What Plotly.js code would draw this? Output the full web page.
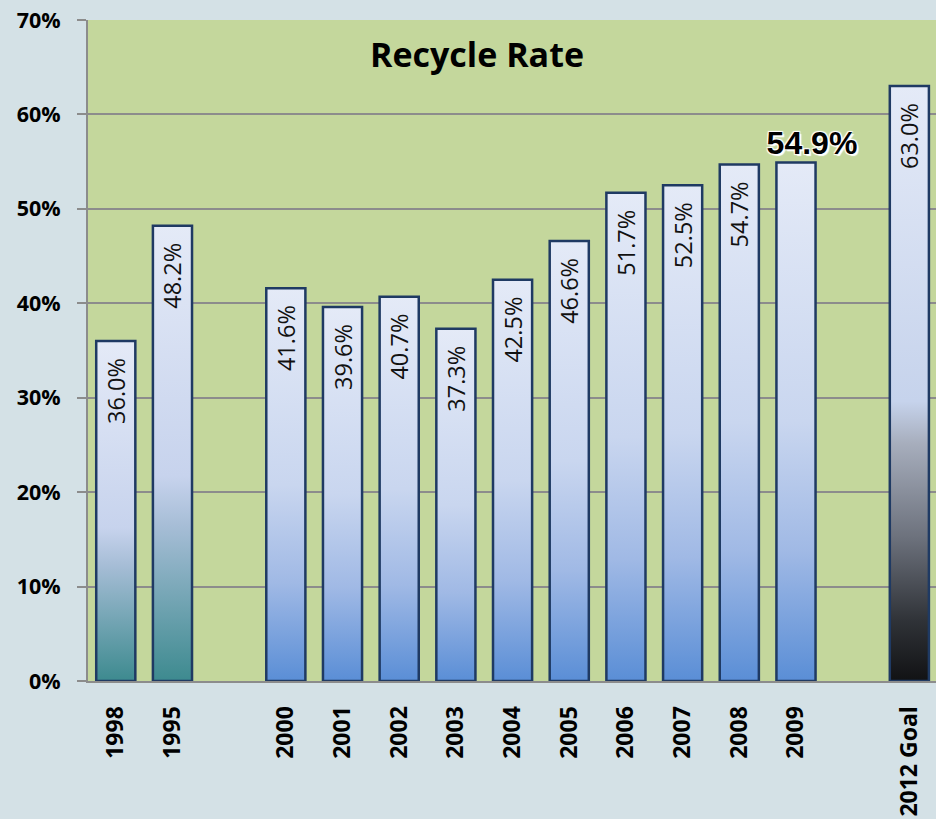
<!DOCTYPE html>
<html>
<head>
<meta charset="utf-8">
<script src="https://cdn.plot.ly/plotly-3.0.1.min.js"></script>
<style>
  html, body { margin: 0; padding: 0; background: #d4e1e6; }
  #chart { width: 936px; height: 819px; }
</style>
</head>
<body>
<div id="chart"></div>
<script>
// ---- data ----
const categories = ['1998', '1995', '2000', '2001', '2002', '2003', '2004', '2005', '2006', '2007', '2008', '2009', '2012 Goal'];
const rates = [36.0, 48.2, 41.6, 39.6, 40.7, 37.3, 42.5, 46.6, 51.7, 52.5, 54.7, 54.9, 63.0];
const axisOrder = ['1998', '1995', ' ', '2000', '2001', '2002', '2003', '2004', '2005', '2006', '2007', '2008', '2009', '  ', '2012 Goal'];
const highlighted = '2009';
const yTickVals = [0, 10, 20, 30, 40, 50, 60, 70];
const yTickText = ['0%', '10%', '20%', '30%', '40%', '50%', '60%', '70%'];
const chartTitle = 'Recycle Rate';

// ---- style ----
const gradientFor = {
  '1998': 'gTeal', '1995': 'gTeal', '2012 Goal': 'gBlack'
};
const labels = rates.map((v, i) => categories[i] === highlighted ? '' : v.toFixed(1) + '%');
const hiIdx = categories.indexOf(highlighted);

const traces = [{
  type: 'bar',
  x: categories,
  y: rates,
  text: labels,
  textposition: 'inside',
  insidetextanchor: 'end',
  textangle: -90,
  constraintext: 'none',
  textfont: { family: 'Open Sans, sans-serif', size: 23.5, color: '#111' },
  marker: { color: '#c8d5ee', line: { color: '#1f3a63', width: 2.5 } },
  hoverinfo: 'none'
}, {
  type: 'scatter',
  mode: 'text',
  x: [categories[hiIdx]],
  y: [rates[hiIdx]],
  text: [rates[hiIdx].toFixed(1) + '%'],
  textposition: 'top center',
  cliponaxis: false,
  textfont: { family: 'Liberation Sans, Arial, sans-serif', size: 32, color: '#000', weight: 700,
              shadow: '2px 2px 1px #fff, -1px -1px 1px #fff, 1px -1px 1px #fff, -1px 1px 1px #fff' },
  hoverinfo: 'none'
}];

const layout = {
  width: 936, height: 819,
  margin: { l: 88, r: 0, t: 20, b: 138 },
  paper_bgcolor: '#d4e1e6',
  plot_bgcolor: '#c4d79c',
  showlegend: false,
  bargap: 0.31,
  title: {
    text: chartTitle,
    font: { family: 'Open Sans, sans-serif', size: 34, color: '#000', weight: 700 },
    x: 477 / 936, xref: 'container', xanchor: 'center',
    y: 1 - 55 / 819, yref: 'container', yanchor: 'middle'
  },
  xaxis: {
    type: 'category',
    categoryorder: 'array',
    categoryarray: axisOrder,
    range: [-0.49, 14.47],
    tickangle: -90,
    ticks: '',
    ticklabelstandoff: 14,
    tickfont: { family: 'Open Sans, sans-serif', size: 23, color: '#000', weight: 700 },
    showline: true, linecolor: '#8c8c8c', linewidth: 2,
    showgrid: false, zeroline: false, fixedrange: true
  },
  yaxis: {
    range: [0, 70],
    tickvals: yTickVals,
    ticktext: yTickText,
    ticks: 'outside', ticklen: 9, tickwidth: 2, tickcolor: '#8c8c8c',
    ticklabelstandoff: 12,
    tickfont: { family: 'Open Sans, sans-serif', size: 21.5, color: '#000', weight: 700 },
    showline: true, linecolor: '#8c8c8c', linewidth: 2,
    showgrid: true, gridcolor: '#8c8c8c', gridwidth: 2,
    zeroline: false, fixedrange: true
  }
};

Plotly.newPlot('chart', traces, layout, { staticPlot: true, displayModeBar: false }).then(gd => {
  const svgNS = 'http://www.w3.org/2000/svg';
  const svg = gd.querySelector('svg.main-svg');
  let defs = svg.querySelector('defs');
  if (!defs) { defs = document.createElementNS(svgNS, 'defs'); svg.insertBefore(defs, svg.firstChild); }
  const grads = {
    gBlue: [[0, '#e4eaf7'], [0.5, '#c9d6ef'], [0.75, '#a0b9e5'], [1, '#5a8ed6']],
    gTeal: [[0, '#e4eaf7'], [0.55, '#c7d3ed'], [0.66, '#a6bdd6'], [0.82, '#74a5b4'], [1, '#3d8a8f']],
    gBlack: [[0, '#e4eaf7'], [0.53, '#c6d3ec'], [0.6, '#a7aebd'], [0.76, '#6c717c'], [0.9, '#2f3237'], [1, '#111214']]
  };
  Object.keys(grads).forEach(id => {
    const lg = document.createElementNS(svgNS, 'linearGradient');
    lg.setAttribute('id', id);
    lg.setAttribute('x1', '0'); lg.setAttribute('y1', '0');
    lg.setAttribute('x2', '0'); lg.setAttribute('y2', '1');
    grads[id].forEach(([o, c]) => {
      const st = document.createElementNS(svgNS, 'stop');
      st.setAttribute('offset', o);
      st.setAttribute('stop-color', c);
      lg.appendChild(st);
    });
    defs.appendChild(lg);
  });
  gd.querySelectorAll('.barlayer .trace .point').forEach((pt, i) => {
    const p = pt.querySelector('path');
    if (p) p.style.fill = 'url(#' + (gradientFor[categories[i]] || 'gBlue') + ')';
    const t = pt.querySelector('text');
    if (t) {
      const tr = t.getAttribute('transform') || '';
      t.setAttribute('transform', tr + ' translate(-14,0)');
    }
  });
  gd.querySelectorAll('.scatterlayer .textpoint').forEach(g => {
    const tr = g.getAttribute('transform') || '';
    g.setAttribute('transform', tr + ' translate(16,-1)');
  });
});
</script>
</body>
</html>
